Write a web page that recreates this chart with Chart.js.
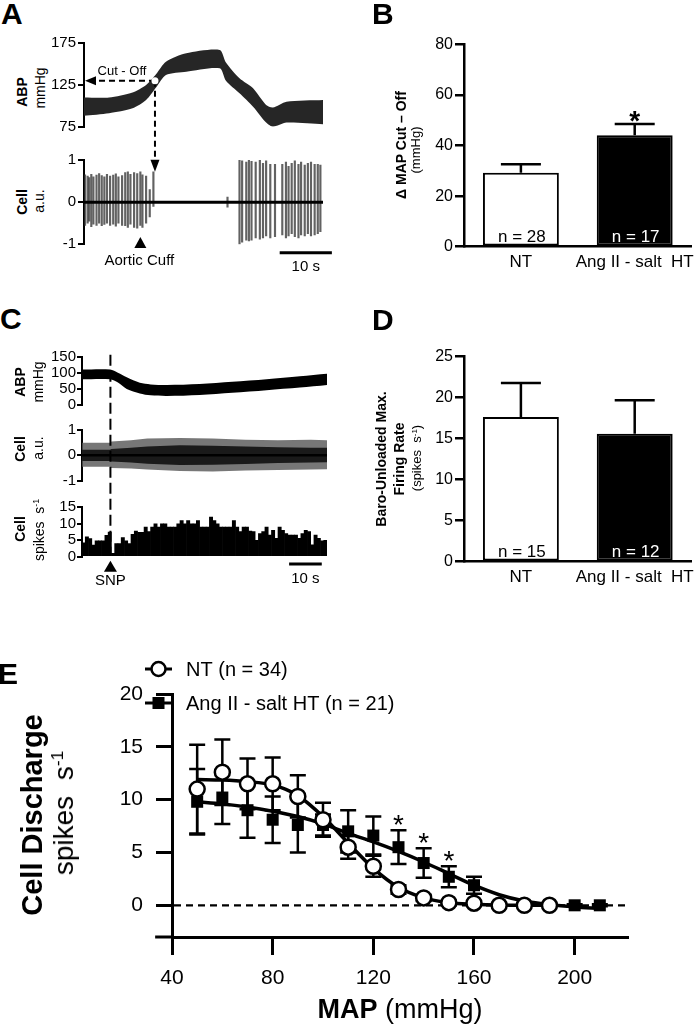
<!DOCTYPE html>
<html>
<head>
<meta charset="utf-8">
<title>Baroreflex cut-off and discharge</title>
<script src="https://cdn.jsdelivr.net/npm/chart.js@4.4.1/dist/chart.umd.min.js"></script>
<style>
  html, body { margin: 0; padding: 0; background: #fff; }
  #fig { position: relative; width: 700px; height: 1030px; overflow: hidden;
         font-family: 'Liberation Sans', Arial, Helvetica, sans-serif; color: #000; }
  #fig canvas { position: absolute; }
  .lab { position: absolute; white-space: nowrap; line-height: 1; }
  .v { transform: translate(-50%, -50%) rotate(-90deg); }
  .b { font-weight: bold; }
  .sup { font-size: 0.62em; position: relative; top: -0.55em; }
</style>
</head>
<body>
<div id="fig">
  <canvas id="aCell" width="340" height="140" style="left:0;top:140px;z-index:1"></canvas>
  <canvas id="aAbp" width="340" height="155" style="left:0;top:30px;z-index:2"></canvas>
  <canvas id="bBar" width="360" height="270" style="left:340px;top:20px"></canvas>
  <canvas id="cHist" width="340" height="100" style="left:0;top:490px;z-index:1"></canvas>
  <canvas id="cCell" width="340" height="80" style="left:0;top:415px;z-index:2"></canvas>
  <canvas id="cAbp" width="340" height="250" style="left:0;top:340px;z-index:3"></canvas>
  <canvas id="dBar" width="360" height="270" style="left:340px;top:330px"></canvas>
  <canvas id="eCurve" width="700" height="390" style="left:0;top:640px"></canvas>

  <div class="lab b" style="left:1px;top:-1px;font-size:30px">A</div>
  <div class="lab b" style="left:372px;top:-1px;font-size:30px">B</div>
  <div class="lab b" style="left:0;top:304px;font-size:30px">C</div>
  <div class="lab b" style="left:372px;top:305px;font-size:30px">D</div>
  <div class="lab b" style="left:-2px;top:659px;font-size:30px">E</div>

  <div class="lab v b" style="left:22px;top:92px;font-size:14px">ABP</div>
  <div class="lab v" style="left:40px;top:88px;font-size:14px">mmHg</div>
  <div class="lab v b" style="left:22px;top:202px;font-size:14px">Cell</div>
  <div class="lab v" style="left:39px;top:201px;font-size:14px">a.u.</div>

  <div class="lab v b" style="left:20px;top:382px;font-size:14px">ABP</div>
  <div class="lab v" style="left:38px;top:382px;font-size:14px">mmHg</div>
  <div class="lab v b" style="left:20px;top:449px;font-size:14px">Cell</div>
  <div class="lab v" style="left:38px;top:448px;font-size:14px">a.u.</div>
  <div class="lab v b" style="left:20px;top:529px;font-size:14px">Cell</div>
  <div class="lab v" style="left:39px;top:530px;font-size:14px">spikes&nbsp; s<span class="sup">-1</span></div>

  <div class="lab v b" style="left:401px;top:145px;font-size:14px">Δ MAP Cut – Off</div>
  <div class="lab v" style="left:415px;top:150px;font-size:13px">(mmHg)</div>

  <div class="lab v b" style="left:381px;top:459px;font-size:14px">Baro-Unloaded Max.</div>
  <div class="lab v b" style="left:399px;top:459px;font-size:14px">Firing Rate</div>
  <div class="lab v" style="left:417px;top:458px;font-size:13px">(spikes&nbsp; s<span class="sup">-1</span>)</div>

  <div class="lab v b" style="left:32px;top:815px;font-size:29px">Cell Discharge</div>
  <div class="lab v" style="left:64px;top:813px;font-size:28px">spikes&nbsp; s<span class="sup">-1</span></div>
  <div class="lab" style="left:400px;top:996px;font-size:27px;transform:translateX(-50%)"><b>MAP</b> (mmHg)</div>
</div>

<script>
// ---- panel A: aortic cuff trace ----
const abpTimeA = [0, 4.8, 9.3, 11.9, 13.8, 15.7, 19.6, 26, 27.2, 29.8, 32.4, 34.9, 36.2, 38.8, 45.8];
const abpHighA = [110, 110, 116, 125, 138, 153, 163, 167, 152, 133, 121, 101, 98, 105, 107];
const abpLowA = [88, 91, 97, 107, 122, 137, 141, 145, 130, 115, 99, 80, 75, 80, 78];
const cutTime = 13.6;
const cutPressure = 130;
const cuffTime = 10.8;
const scaleStartA = 37.5;

const spikeTimeA = [0.2, 0.7, 1.0, 1.4, 1.8, 2.4, 2.9, 3.4, 3.9, 4.4, 5.0, 5.6, 6.1, 6.6, 7.3, 7.9, 8.4, 8.9, 9.6, 10.2, 10.8, 11.2, 11.9, 12.6, 13.3,
  27.5,
  29.8, 30.3, 31.1, 31.6, 32.1, 32.9, 33.7, 34.3, 34.9, 35.7, 36.6, 38.0, 38.7, 39.2, 39.8, 40.4, 41.1, 41.6, 42.3, 42.9, 43.5, 44.2, 44.8, 45.3];
const spikeTopA = [0.65, 0.62, 0.58, 0.66, 0.6, 0.64, 0.68, 0.63, 0.6, 0.66, 0.62, 0.64, 0.67, 0.6, 0.63, 0.7, 0.72, 0.66, 0.7, 0.68, 0.72, 0.65, 0.62, 0.3, 0.72,
  0.12,
  1.0, 0.98, 0.95, 1.0, 0.97, 0.95, 1.0, 0.92, 0.98, 0.9, 0.9, 0.9, 0.95, 0.85, 0.92, 0.98, 0.9, 0.95, 0.88, 0.92, 0.95, 0.9, 0.9, 0.88];
const spikeBottomA = [-0.55, -0.5, -0.45, -0.58, -0.52, -0.55, -0.5, -0.56, -0.53, -0.5, -0.55, -0.52, -0.57, -0.5, -0.55, -0.56, -0.6, -0.52, -0.6, -0.62, -0.55, -0.6, -0.5, -0.35, -0.1,
  -0.12,
  -1.0, -0.95, -0.9, -0.92, -0.9, -0.85, -0.88, -0.85, -0.8, -0.85, -0.82, -0.78, -0.85, -0.8, -0.75, -0.82, -0.85, -0.78, -0.8, -0.75, -0.8, -0.78, -0.75, -0.7];

// ---- panels B and D: group bars ----
const groups = ['NT', 'Ang II - salt  HT'];
const groupColors = ['#fff', '#000'];
const cutoffMean = [29.2, 44.1];
const cutoffSem = [3.4, 4.4];
const cutoffN = ['n = 28', 'n = 17'];
const maxRateMean = [17.65, 15.6];
const maxRateSem = [4.15, 4.1];
const maxRateN = ['n = 15', 'n = 12'];

// ---- panel C: SNP trace ----
const abpTimeC = [0, 8.6, 11, 13.7, 17.7, 21, 26, 36, 46, 56.5, 66.7, 75];
const abpHighC = [110, 110, 100, 86, 69, 64, 62, 65, 72, 80, 89, 97];
const abpLowC = [80, 80, 70, 50, 36, 30, 28, 31, 38, 46, 54, 62];
const cellTimeC = [0, 8.6, 9, 15, 20, 30, 40, 50, 60, 70, 75];
const cellOuterHighC = [0.5, 0.5, 0.55, 0.6, 0.66, 0.68, 0.66, 0.62, 0.6, 0.62, 0.6];
const cellOuterLowC = [-0.45, -0.45, -0.5, -0.52, -0.56, -0.62, -0.64, -0.6, -0.58, -0.56, -0.55];
const cellInnerHighC = [0.22, 0.22, 0.25, 0.3, 0.35, 0.4, 0.38, 0.35, 0.32, 0.3, 0.3];
const cellInnerLowC = [-0.22, -0.22, -0.24, -0.28, -0.33, -0.38, -0.37, -0.34, -0.3, -0.28, -0.27];
const histRate = [4.2, 6, 5.5, 3.5, 4.8, 4.8, 4.8, 6.5, 7.5,
  1, 4, 4, 5.8, 4.8, 4, 6.8, 7.8, 7.4, 7.4, 9, 7.6, 9, 10, 9, 10, 10, 9, 9, 9,
  10, 11, 10, 11, 10, 10, 11, 9, 9, 9, 12, 11, 10, 9, 9, 9, 9, 11, 9, 7.6,
  9, 9, 7.8, 7.6, 5, 7, 7.6, 9, 6.6, 8, 5.6, 9, 8, 7, 6.6, 6.6, 6.6, 5.6, 7, 8,
  7.6, 3.6, 6.6, 5.6, 4.8, 5];
const snpTime = 8.7;
const scaleStartC = 63.4;

// ---- panel E: MAP vs discharge ----
const seriesNames = ['NT (n = 34)', 'Ang II - salt HT (n = 21)'];
const mapLevels = [50, 60, 70, 80, 90, 100, 110, 120, 130, 140, 150, 160, 170, 180, 190, 200, 210];
const ntRate = [11.0, 12.6, 11.5, 11.5, 10.3, 8.1, 5.5, 3.7, 1.5, 0.7, 0.25, 0.2, 0.0, 0.0, 0.0, null, null];
const ntSem = [4.2, 3.1, 2.4, 2.5, 2.0, 1.6, 1.1, 1.0, 0.4, 0.3, 0.2, 0.1, 0.05, 0, 0, null, null];
const angRate = [9.8, 10.2, 9.0, 8.1, 7.6, 7.6, 7.0, 6.6, 5.5, 4.0, 2.7, 1.9, null, null, null, 0.0, 0.0];
const angSem = [3.1, 2.5, 2.6, 2.2, 2.6, 1.0, 2.0, 1.8, 1.6, 1.4, 1.0, 0.8, null, null, null, 0.1, 0.1];
const ntFitMap = [50, 60, 70, 80, 85, 90, 100, 110, 120, 130, 140, 150, 160, 170, 180, 190];
const ntFitRate = [11.9, 11.85, 11.7, 11.4, 11.0, 10.4, 8.4, 5.9, 3.5, 1.7, 0.7, 0.25, 0.1, 0.02, 0, 0];
const angFitMap = [50, 60, 70, 80, 90, 100, 110, 120, 130, 140, 150, 160, 170, 180, 190, 200, 210];
const angFitRate = [9.8, 9.6, 9.3, 8.9, 8.4, 7.7, 6.8, 6.0, 5.1, 4.1, 3.0, 1.9, 1.0, 0.4, 0.05, -0.15, -0.3];
const sigLevels = [130, 140, 150];

// tick labels
const abpTicksA = [75, 125, 175];
const cellTicks = [-1, 0, 1];
const abpTicksC = [0, 50, 100, 150];
const rateTicksC = [0, 5, 10, 15];
const cutoffTicks = [0, 20, 40, 60, 80];
const maxRateTicks = [0, 5, 10, 15, 20, 25];
const dischargeTicks = [0, 5, 10, 15, 20];
const mapTicks = [40, 80, 120, 160, 200];

const FONT = "'Liberation Sans', Arial, Helvetica, sans-serif";
Chart.defaults.font.family = FONT;
Chart.defaults.color = '#000';

const common = {
  responsive: false,
  animation: false,
  events: [],
  plugins: { legend: { display: false }, tooltip: { enabled: false } }
};

function fixedTicks(list) {
  return s => { s.ticks = list.map(v => ({ value: v })); };
}

function traceY(min, max, list, width, tickLen, pad) {
  return {
    min, max,
    afterFit: s => { s.width = width; },
    afterBuildTicks: fixedTicks(list),
    border: { color: '#000', width: 2 },
    grid: { drawOnChartArea: false, color: '#000', lineWidth: 2, tickLength: tickLen },
    ticks: { color: '#000', font: { size: 15 }, padding: pad, autoSkip: false }
  };
}

function hiddenX(end) {
  return { type: 'linear', min: 0, max: end, display: false, offset: false };
}

function envelope(times, values) {
  return times.map((t, i) => ({ x: t, y: values[i] }));
}

function triangleUp(ctx, x, yTop, h, half) {
  ctx.beginPath();
  ctx.moveTo(x, yTop);
  ctx.lineTo(x - half, yTop + h);
  ctx.lineTo(x + half, yTop + h);
  ctx.closePath();
  ctx.fill();
}

function scaleBar(ctx, xs, start, y, textY) {
  const x1 = xs.getPixelForValue(start), x2 = xs.getPixelForValue(start + 10);
  ctx.lineWidth = 3;
  ctx.beginPath();
  ctx.moveTo(x1, y);
  ctx.lineTo(x2, y);
  ctx.stroke();
  ctx.font = '15px ' + FONT;
  ctx.textAlign = 'center';
  ctx.fillText('10 s', (x1 + x2) / 2, textY);
}

// ---------- A : ABP ----------
const cutoffMarker = {
  id: 'cutoffMarker',
  afterDatasetsDraw(chart) {
    const { ctx, chartArea, scales: { x, y } } = chart;
    const px = x.getPixelForValue(cutTime), py = y.getPixelForValue(cutPressure);
    const tip = chartArea.bottom + 45;
    ctx.save();
    ctx.strokeStyle = '#000';
    ctx.fillStyle = '#000';
    ctx.lineWidth = 2;
    ctx.setLineDash([6, 4]);
    ctx.beginPath();
    ctx.moveTo(px, py); ctx.lineTo(chartArea.left + 10, py);
    ctx.moveTo(px, py); ctx.lineTo(px, tip - 10);
    ctx.stroke();
    ctx.setLineDash([]);
    ctx.beginPath();
    ctx.moveTo(chartArea.left + 1, py);
    ctx.lineTo(chartArea.left + 12, py - 4.5);
    ctx.lineTo(chartArea.left + 12, py + 4.5);
    ctx.closePath();
    ctx.fill();
    ctx.beginPath();
    ctx.moveTo(px, tip);
    ctx.lineTo(px - 4.5, tip - 12);
    ctx.lineTo(px + 4.5, tip - 12);
    ctx.closePath();
    ctx.fill();
    ctx.fillStyle = '#fff';
    ctx.beginPath();
    ctx.arc(px, py, 3.5, 0, Math.PI * 2);
    ctx.fill();
    ctx.fillStyle = '#000';
    ctx.font = '13px ' + FONT;
    ctx.textAlign = 'center';
    ctx.fillText('Cut - Off', px - 33, py - 6);
    ctx.restore();
  }
};

new Chart(document.getElementById('aAbp'), {
  type: 'line',
  data: {
    datasets: [
      { data: envelope(abpTimeA, abpHighA), fill: '+1', backgroundColor: '#262626', borderWidth: 0, pointRadius: 0, tension: 0.25 },
      { data: envelope(abpTimeA, abpLowA), fill: false, borderWidth: 0, pointRadius: 0, tension: 0.25 }
    ]
  },
  options: {
    ...common,
    layout: { padding: { top: 13.3, right: 17, bottom: 58.3, left: 0 } },
    scales: { x: hiddenX(abpTimeA[abpTimeA.length - 1]), y: traceY(75, 175, abpTicksA, 84, 6, 2) }
  },
  plugins: [cutoffMarker]
});

// ---------- A : Cell ----------
const cuffMarks = {
  id: 'cuffMarks',
  afterDraw(chart) {
    const { ctx, chartArea, scales: { x } } = chart;
    const b = chartArea.bottom;
    const cx = x.getPixelForValue(cuffTime);
    ctx.save();
    ctx.fillStyle = '#000';
    ctx.strokeStyle = '#000';
    triangleUp(ctx, cx, b - 7.3, 11, 6);
    ctx.font = '15px ' + FONT;
    ctx.textAlign = 'center';
    ctx.fillText('Aortic Cuff', cx - 1, b + 20.7);
    scaleBar(ctx, x, scaleStartA, b + 8.4, b + 26.4);
    ctx.restore();
  }
};

new Chart(document.getElementById('aCell'), {
  type: 'bar',
  data: {
    datasets: [
      { type: 'line', data: [{ x: abpTimeA[0], y: 0 }, { x: abpTimeA[abpTimeA.length - 1], y: 0 }],
        borderColor: '#000', borderWidth: 3, pointRadius: 0 },
      { data: spikeTimeA.map((t, i) => ({ x: t, y: [spikeBottomA[i], spikeTopA[i]] })),
        backgroundColor: 'rgba(45,45,45,0.75)', barThickness: 1.5 }
    ]
  },
  options: {
    ...common,
    layout: { padding: { top: 20, right: 17, bottom: 35.7, left: 0 } },
    scales: { x: hiddenX(abpTimeA[abpTimeA.length - 1]), y: traceY(-1, 1, cellTicks, 84, 6, 2) }
  },
  plugins: [cuffMarks]
});

// ---------- B and D : bars ----------
function barExtras(sem, nLabels, starIndex) {
  return {
    id: 'barExtras',
    afterDatasetsDraw(chart) {
      const { ctx, chartArea } = chart;
      const ys = chart.scales.y;
      const values = chart.data.datasets[0].data;
      chart.getDatasetMeta(0).data.forEach((bar, i) => {
        const top = ys.getPixelForValue(values[i] + sem[i]);
        ctx.save();
        ctx.strokeStyle = '#000';
        ctx.lineWidth = 2.5;
        ctx.beginPath();
        ctx.moveTo(bar.x, bar.y);
        ctx.lineTo(bar.x, top);
        ctx.moveTo(bar.x - 20, top);
        ctx.lineTo(bar.x + 20, top);
        ctx.stroke();
        ctx.fillStyle = groupColors[i] === '#000' ? '#fff' : '#000';
        ctx.font = '17px ' + FONT;
        ctx.textAlign = 'center';
        ctx.fillText(nLabels[i], bar.x + 1, chartArea.bottom - 5);
        if (i === starIndex) {
          ctx.fillStyle = '#000';
          ctx.font = 'bold 28px ' + FONT;
          ctx.fillText('*', bar.x, top + 6);
        }
        ctx.restore();
      });
    }
  };
}

function barChart(id, values, sem, nLabels, starIndex, yMax, ticks, pad, xHeight) {
  return new Chart(document.getElementById(id), {
    type: 'bar',
    data: {
      labels: groups,
      datasets: [{ data: values, backgroundColor: groupColors, borderColor: '#000', borderWidth: 2,
        borderSkipped: false, barPercentage: 0.667, categoryPercentage: 1 }]
    },
    options: {
      ...common,
      layout: { padding: pad },
      scales: {
        x: {
          afterFit: s => { s.height = xHeight; },
          grid: { display: false, drawTicks: false },
          border: { color: '#000', width: 2.5 },
          ticks: { color: '#000', font: { size: 17 }, padding: 5, autoSkip: false, maxRotation: 0, minRotation: 0 }
        },
        y: {
          min: 0, max: yMax,
          afterFit: s => { s.width = 124; },
          afterBuildTicks: fixedTicks(ticks),
          border: { color: '#000', width: 2.5 },
          grid: { drawOnChartArea: false, color: '#000', lineWidth: 2.5, tickLength: 9 },
          ticks: { color: '#000', font: { size: 16 }, padding: 2, autoSkip: false }
        }
      }
    },
    plugins: [barExtras(sem, nLabels, starIndex)]
  });
}

barChart('bBar', cutoffMean, cutoffSem, cutoffN, 1, 80, cutoffTicks, { top: 24.3, right: 5, bottom: 0, left: 0 }, 43.3);
barChart('dBar', maxRateMean, maxRateSem, maxRateN, -1, 25, maxRateTicks, { top: 26.7, right: 5, bottom: 0, left: 0 }, 38.3);

// ---------- C : ABP with SNP line ----------
const snpLine = {
  id: 'snpLine',
  afterDatasetsDraw(chart) {
    const { ctx, chartArea, scales: { x } } = chart;
    const sx = x.getPixelForValue(snpTime);
    ctx.save();
    ctx.strokeStyle = '#000';
    ctx.lineWidth = 2;
    ctx.setLineDash([11, 5]);
    ctx.beginPath();
    ctx.moveTo(sx, chartArea.top - 2);
    ctx.lineTo(sx, chartArea.top + 198);
    ctx.stroke();
    ctx.restore();
  }
};

new Chart(document.getElementById('cAbp'), {
  type: 'line',
  data: {
    datasets: [
      { data: envelope(abpTimeC, abpHighC), fill: '+1', backgroundColor: '#000', borderWidth: 0, pointRadius: 0, tension: 0.3 },
      { data: envelope(abpTimeC, abpLowC), fill: false, borderWidth: 0, pointRadius: 0, tension: 0.3 }
    ]
  },
  options: {
    ...common,
    layout: { padding: { top: 16.7, right: 13, bottom: 185, left: 0 } },
    scales: { x: hiddenX(75), y: traceY(0, 150, abpTicksC, 82, 5, 1) }
  },
  plugins: [snpLine]
});

// ---------- C : Cell raw ----------
new Chart(document.getElementById('cCell'), {
  type: 'line',
  data: {
    datasets: [
      { data: [{ x: 0, y: 0 }, { x: 75, y: 0 }], borderColor: '#000', borderWidth: 2.5, pointRadius: 0 },
      { data: envelope(cellTimeC, cellInnerHighC), fill: '+1', backgroundColor: '#1a1a1a', borderWidth: 0, pointRadius: 0 },
      { data: envelope(cellTimeC, cellInnerLowC), fill: false, borderWidth: 0, pointRadius: 0 },
      { data: envelope(cellTimeC, cellOuterHighC), fill: '+1', backgroundColor: 'rgba(85,85,85,0.8)', borderWidth: 0, pointRadius: 0 },
      { data: envelope(cellTimeC, cellOuterLowC), fill: false, borderWidth: 0, pointRadius: 0 }
    ]
  },
  options: {
    ...common,
    layout: { padding: { top: 15, right: 13, bottom: 14.3, left: 0 } },
    scales: { x: hiddenX(75), y: traceY(-1, 1, cellTicks, 82, 5, 1) }
  }
});

// ---------- C : rate histogram ----------
const snpMarks = {
  id: 'snpMarks',
  afterDraw(chart) {
    const { ctx, chartArea, scales: { x } } = chart;
    const b = chartArea.bottom;
    const sx = x.getPixelForValue(snpTime);
    ctx.save();
    ctx.fillStyle = '#000';
    ctx.strokeStyle = '#000';
    triangleUp(ctx, sx, b + 4, 11, 6.5);
    ctx.font = '15px ' + FONT;
    ctx.textAlign = 'center';
    ctx.fillText('SNP', sx, b + 28.3);
    scaleBar(ctx, x, scaleStartC, b + 7.3, b + 26.3);
    ctx.restore();
  }
};

new Chart(document.getElementById('cHist'), {
  type: 'bar',
  data: {
    datasets: [{ data: histRate.map((v, i) => ({ x: i + 0.5, y: v })), backgroundColor: '#000',
      barPercentage: 1, categoryPercentage: 1, borderWidth: 0 }]
  },
  options: {
    ...common,
    layout: { padding: { top: 17.3, right: 13, bottom: 33.3, left: 0 } },
    scales: { x: hiddenX(75), y: traceY(0, 15, rateTicksC, 82, 5, 1) }
  },
  plugins: [snpMarks]
});

// ---------- E : discharge vs MAP ----------
const xAxisStart = 33.3;

function errorBars(ctx, xs, ys, rates, sems) {
  mapLevels.forEach((m, i) => {
    if (rates[i] === null || !sems[i]) return;
    const x = xs.getPixelForValue(m);
    const hi = ys.getPixelForValue(rates[i] + sems[i]);
    const lo = ys.getPixelForValue(rates[i] - sems[i]);
    ctx.beginPath();
    ctx.moveTo(x, lo); ctx.lineTo(x, hi);
    ctx.moveTo(x - 8, hi); ctx.lineTo(x + 8, hi);
    ctx.moveTo(x - 8, lo); ctx.lineTo(x + 8, lo);
    ctx.stroke();
  });
}

const curveExtras = {
  id: 'curveExtras',
  beforeDatasetsDraw(chart) {
    const { ctx, chartArea, scales: { x, y } } = chart;
    ctx.save();
    ctx.strokeStyle = '#000';
    ctx.lineWidth = 2.2;
    ctx.setLineDash([7, 5]);
    ctx.beginPath();
    ctx.moveTo(x.getPixelForValue(mapTicks[0]) + 2, y.getPixelForValue(0));
    ctx.lineTo(chartArea.right, y.getPixelForValue(0));
    ctx.stroke();
    ctx.setLineDash([]);
    ctx.lineWidth = 2.5;
    errorBars(ctx, x, y, ntRate, ntSem);
    errorBars(ctx, x, y, angRate, angSem);
    ctx.restore();
  },
  afterDraw(chart) {
    const { ctx, chartArea, scales: { x, y } } = chart;
    ctx.save();
    ctx.strokeStyle = '#000';
    ctx.fillStyle = '#000';
    // axis runs a little left of the y axis
    ctx.lineWidth = 3;
    ctx.beginPath();
    ctx.moveTo(x.getPixelForValue(xAxisStart), chartArea.bottom);
    ctx.lineTo(chartArea.left, chartArea.bottom);
    ctx.stroke();
    // significance marks
    ctx.font = '28px ' + FONT;
    ctx.textAlign = 'center';
    sigLevels.forEach(m => {
      const i = mapLevels.indexOf(m);
      const top = y.getPixelForValue(angRate[i] + angSem[i]);
      ctx.fillText('*', x.getPixelForValue(m), top - 12 + 16);
    });
    // legend
    const rows = [{ y: 29, style: 'circle' }, { y: 63, style: 'rect' }];
    ctx.font = '20px ' + FONT;
    ctx.textAlign = 'left';
    ctx.textBaseline = 'middle';
    rows.forEach((r, i) => {
      ctx.lineWidth = 3;
      ctx.beginPath();
      ctx.moveTo(145, r.y); ctx.lineTo(172, r.y);
      ctx.stroke();
      if (r.style === 'circle') {
        ctx.fillStyle = '#fff';
        ctx.lineWidth = 2.5;
        ctx.beginPath();
        ctx.arc(158.5, r.y, 7, 0, Math.PI * 2);
        ctx.fill();
        ctx.stroke();
      } else {
        ctx.fillStyle = '#000';
        ctx.fillRect(152.5, r.y - 6, 12, 12);
      }
      ctx.fillStyle = '#000';
      ctx.fillText(seriesNames[i], 186, r.y + 1);
    });
    ctx.restore();
  }
};

new Chart(document.getElementById('eCurve'), {
  type: 'line',
  data: {
    datasets: [
      { data: mapLevels.map((m, i) => ({ x: m, y: ntRate[i] })), showLine: false, pointStyle: 'circle',
        pointRadius: 7.5, pointBackgroundColor: '#fff', pointBorderColor: '#000', pointBorderWidth: 2.5 },
      { data: mapLevels.map((m, i) => ({ x: m, y: angRate[i] })), showLine: false, pointStyle: 'rect',
        pointRadius: 8.5, pointBackgroundColor: '#000', pointBorderColor: '#000', pointBorderWidth: 0 },
      { data: ntFitMap.map((m, i) => ({ x: m, y: ntFitRate[i] })), borderColor: '#000', borderWidth: 3.5,
        pointRadius: 0, cubicInterpolationMode: 'monotone' },
      { data: angFitMap.map((m, i) => ({ x: m, y: angFitRate[i] })), borderColor: '#000', borderWidth: 3.5,
        pointRadius: 0, cubicInterpolationMode: 'monotone' }
    ]
  },
  options: {
    ...common,
    spanGaps: false,
    layout: { padding: { top: 54, right: 73, bottom: 0, left: 0 } },
    scales: {
      x: {
        type: 'linear', min: 40, max: 220.8,
        afterFit: s => { s.height = 93; },
        afterBuildTicks: fixedTicks(mapTicks),
        border: { color: '#000', width: 3 },
        grid: { drawOnChartArea: false, color: '#000', lineWidth: 3, tickLength: 18 },
        ticks: { color: '#000', font: { size: 21 }, padding: 11, autoSkip: false, maxRotation: 0 }
      },
      y: {
        min: -3, max: 20,
        afterFit: s => { s.width = 172; },
        afterBuildTicks: fixedTicks(dischargeTicks),
        border: { color: '#000', width: 3 },
        grid: { drawOnChartArea: false, color: '#000', lineWidth: 3, tickLength: 16 },
        ticks: { color: '#000', font: { size: 21 }, padding: 13, autoSkip: false }
      }
    }
  },
  plugins: [curveExtras]
});
</script>
</body>
</html>
